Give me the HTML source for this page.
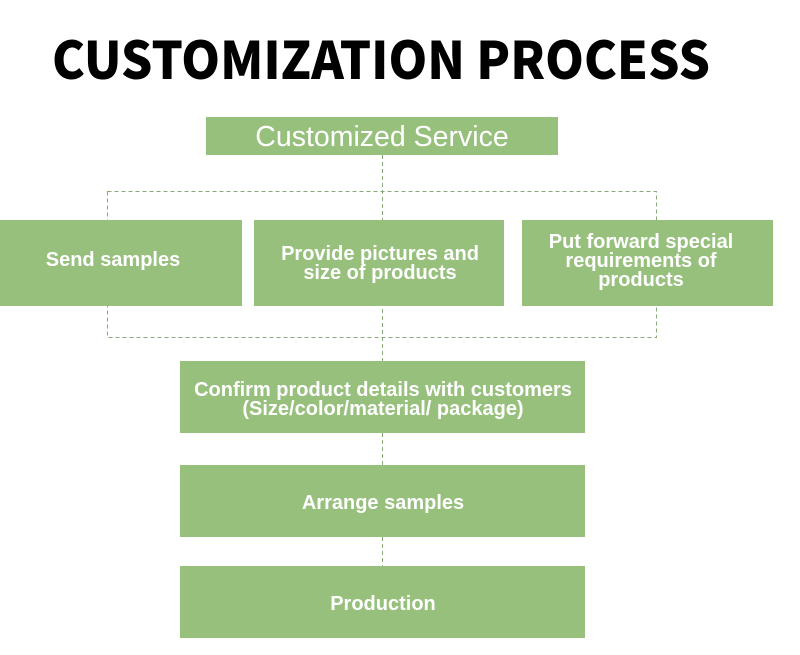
<!DOCTYPE html>
<html><head><meta charset="utf-8"><style>
html,body{margin:0;padding:0;background:#fff;}
svg{display:block}
.t{font-family:"Liberation Sans",Arial,sans-serif;font-weight:bold;font-size:20px;fill:#fff;text-anchor:middle}
</style></head><body>
<svg width="800" height="655" viewBox="0 0 800 655" xmlns="http://www.w3.org/2000/svg">
<text x="52" y="79" font-family="'Noto Sans CJK SC','Liberation Sans',sans-serif" font-weight="900" font-size="52" textLength="658" lengthAdjust="spacingAndGlyphs" fill="#000">CUSTOMIZATION PROCESS</text>
<g stroke="#8aa97a" stroke-width="1" stroke-dasharray="4,3" fill="none">
<rect x="107.5" y="191.5" width="549" height="146"/>
<line x1="382.5" y1="155" x2="382.5" y2="361"/>
<line x1="382.5" y1="433" x2="382.5" y2="465"/>
<line x1="382.5" y1="537" x2="382.5" y2="566"/>
</g>
<g fill="#97c07d">
<rect x="206" y="117" width="352" height="38"/>
<rect x="0" y="220" width="242" height="86"/>
<rect x="254" y="220" width="250" height="86"/>
<rect x="522" y="220" width="251" height="86"/>
<rect x="180" y="361" width="405" height="72"/>
<rect x="180" y="465" width="405" height="72"/>
<rect x="180" y="566" width="405" height="72"/>
</g>
<text x="382" y="146" font-family="'Liberation Sans',Arial,sans-serif" font-size="28.5" fill="#fff" text-anchor="middle">Customized Service</text>
<text class="t" x="113" y="266">Send samples</text>
<text class="t" x="380" y="260">Provide pictures and</text>
<text class="t" x="380" y="279">size of products</text>
<text class="t" x="641" y="248">Put forward special</text>
<text class="t" x="641" y="267">requirements of</text>
<text class="t" x="641" y="286">products</text>
<text class="t" x="383" y="396">Confirm product details with customers</text>
<text class="t" x="383" y="415">(Size/color/material/ package)</text>
<text class="t" x="383" y="509">Arrange samples</text>
<text class="t" x="383" y="610">Production</text>
</svg>
</body></html>
